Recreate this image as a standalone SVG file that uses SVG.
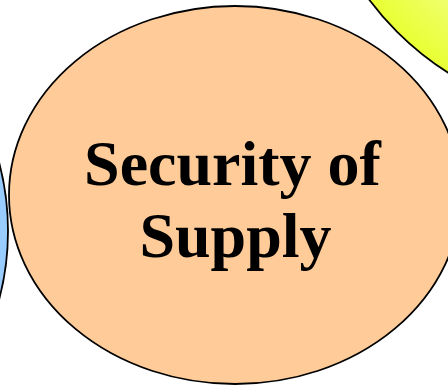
<svg xmlns="http://www.w3.org/2000/svg" width="448" height="385" viewBox="0 0 448 385">
<defs>
<radialGradient id="yg" cx="605" cy="-176" r="294" gradientUnits="userSpaceOnUse">
<stop offset="0" stop-color="#ffffcc"/>
<stop offset="0.7" stop-color="#f4ff88"/>
<stop offset="1" stop-color="#e8ff33"/>
</radialGradient>
</defs>
<style>
.node{stroke:#000;stroke-width:1.8}
.lbl{font-family:"Liberation Serif","Times New Roman",serif;font-weight:bold;font-size:64px;fill:#000;text-anchor:middle}
</style>
<rect width="448" height="385" fill="#fff"/>
<g id="connectors"/>
<g id="node-yellow"><circle class="node" cx="605" cy="-176" r="294" fill="url(#yg)"/></g>
<g id="node-blue"><circle class="node" cx="-260" cy="231" r="268" fill="#99ccff"/></g>
<g id="node-security">
<ellipse class="node" cx="235" cy="195" rx="226" ry="189" fill="#ffcc99"/>
<text class="lbl" x="232.5" y="185">Security of</text>
<text class="lbl" x="235.5" y="257">Supply</text>
</g>
</svg>
